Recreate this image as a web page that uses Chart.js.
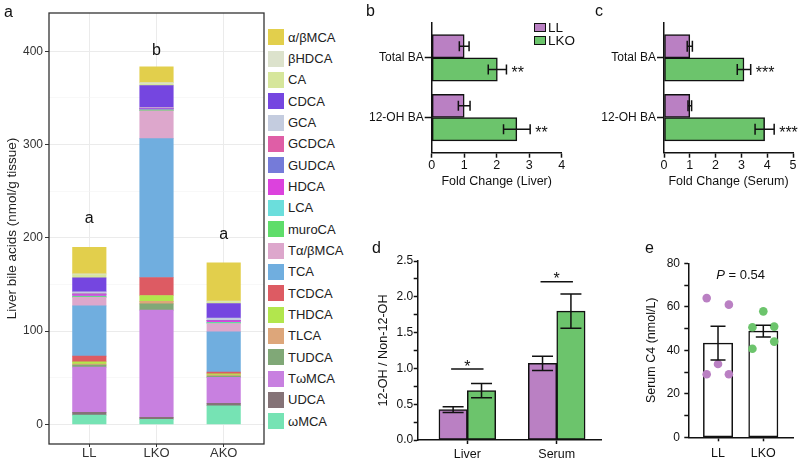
<!DOCTYPE html>
<html>
<head>
<meta charset="utf-8">
<title>Bile acids</title>
<script src="https://cdn.jsdelivr.net/npm/chart.js@4.4.1/dist/chart.umd.min.js"></script>
<style>
  body { margin: 0; background: #fff; }
  #fig { position: relative; width: 800px; height: 461px; overflow: hidden;
         font-family: "Liberation Sans", Arial, sans-serif; color: #111; }
  #fig canvas { position: absolute; }
  .tag { position: absolute; font-size: 16px; line-height: 16px; }
  .key { position: absolute; display: flex; align-items: center; white-space: nowrap; }
  .key i { display: inline-block; box-sizing: border-box; }
</style>
</head>
<body>
<div id="fig">
  <canvas id="chartA" width="266" height="461" style="left:0;top:0"></canvas>
  <canvas id="chartB" width="215" height="200" style="left:360px;top:0"></canvas>
  <canvas id="chartC" width="225" height="200" style="left:575px;top:0"></canvas>
  <canvas id="chartD" width="245" height="241" style="left:360px;top:220px"></canvas>
  <canvas id="chartE" width="180" height="241" style="left:620px;top:220px"></canvas>
  <div id="legendA"></div>
  <div id="legendB"></div>
  <div class="tag" style="left:4px;top:4px">a</div>
  <div class="tag" style="left:366px;top:3px">b</div>
  <div class="tag" style="left:595px;top:3px">c</div>
  <div class="tag" style="left:372px;top:240px">d</div>
  <div class="tag" style="left:645px;top:240px">e</div>
</div>

<script>
// ---- data ----
// panel a: liver bile acid species (nmol/g tissue), legend order
const groupsA = ['LL', 'LKO', 'AKO'];
const speciesA = ['α/βMCA', 'βHDCA', 'CA', 'CDCA', 'GCA', 'GCDCA', 'GUDCA', 'HDCA', 'LCA', 'muroCA',
                  'Tα/βMCA', 'TCA', 'TCDCA', 'THDCA', 'TLCA', 'TUDCA', 'TωMCA', 'UDCA', 'ωMCA'];
const colorsA = ['#E2CF4C', '#DCE2CC', '#D6E69B', '#7546E0', '#C4CCDF', '#DF5EA6', '#757BD9', '#DC42DD', '#6BDEDC', '#5FDD6A',
                 '#DDA7CC', '#70AEDF', '#DD5B63', '#B2E64D', '#DDA67A', '#80A877', '#C880E0', '#857377', '#76E3B4'];
const liverLL  = [28.3, 1.1, 3.2, 15.0, 2.0, 0.4, 0.4, 1.8, 0.4, 1.0, 9.0, 53.9, 6.1, 2.5, 1.1, 2.1, 48.5, 2.9, 10.0];
const liverLKO = [17.0, 1.4, 1.7, 23.5, 0.7, 0.3, 0.3, 1.2, 0.3, 0.7, 29.8, 148.9, 19.3, 6.4, 2.6, 6.7, 115.0, 2.0, 5.5];
const liverAKO = [41.1, 0.8, 1.7, 15.7, 2.4, 0.3, 0.3, 1.6, 0.3, 0.8, 9.0, 43.2, 1.8, 1.2, 1.2, 1.4, 27.8, 2.6, 20.0];
const lettersA = ['a', 'b', 'a'];
const letterYA = [221, 401, 204];

// panels b, c: fold change
const baTypes = ['Total BA', '12-OH BA'];
const liverFoldLL = [1.0, 1.0];
const liverFoldLLErr = [0.15, 0.18];
const liverFoldLKO = [2.02, 2.62];
const liverFoldLKOErr = [0.28, 0.41];
const liverStars = ['**', '**'];
const serumFoldLL = [1.0, 1.0];
const serumFoldLLErr = [0.1, 0.07];
const serumFoldLKO = [3.1, 3.9];
const serumFoldLKOErr = [0.26, 0.37];
const serumStars = ['***', '***'];

// panel d: 12-OH / non-12-OH ratio
const ratioSites = ['Liver', 'Serum'];
const ratioLL = [0.425, 1.07];
const ratioLLErr = [0.04, 0.1];
const ratioLKO = [0.69, 1.8];
const ratioLKOErr = [0.1, 0.24];
const ratioSigY = [0.99, 2.21];

// panel e: serum C4
const c4Groups = ['LL', 'LKO'];
const c4Mean = [43.3, 48.8];
const c4Err = [7.8, 2.7];
const c4LL = [64.0, 61.0, 33.7, 29.0, 29.0];
const c4JitterLL = [-0.25, 0.24, 0, -0.25, 0.24];
const c4LKO = [57.9, 50.6, 50.9, 40.7, 44.0];
const c4JitterLKO = [0, -0.24, 0.24, -0.24, 0.24];
const c4PValue = '0.54';
const c4PLabelY = 74.5;

const LL_COLOR = '#BA80C3';
const LKO_COLOR = '#6CC46C';
const FONT = '"Liberation Sans", Arial, sans-serif';

Chart.defaults.font.family = FONT;
Chart.defaults.color = '#111';
Chart.defaults.animation = false;
Chart.defaults.responsive = false;
Chart.defaults.plugins.legend.display = false;
Chart.defaults.plugins.tooltip.enabled = false;

// helpers
function steps(from, to, step) {
    const out = [];
    for (let v = from; v <= to + 1e-9; v += step) out.push(Math.round(v * 1000) / 1000);
    return out;
}
function fixedTicks(values) {
    return scale => { scale.ticks = values.map(v => ({ value: v })); };
}

// error bars (+ optional stars) for bar datasets that carry an `errors` array
const errorBars = {
    id: 'errorBars',
    afterDatasetsDraw(chart, args, opts) {
        const { ctx } = chart;
        const horizontal = chart.options.indexAxis === 'y';
        const vScale = horizontal ? chart.scales.x : chart.scales.y;
        ctx.save();
        ctx.strokeStyle = '#111';
        ctx.fillStyle = '#111';
        ctx.lineWidth = 1.5;
        chart.data.datasets.forEach((ds, i) => {
            if (!ds.errors) return;
            chart.getDatasetMeta(i).data.forEach((bar, j) => {
                const v = horizontal ? ds.data[j].x : ds.data[j].y;
                const lo = vScale.getPixelForValue(v - ds.errors[j]);
                const hi = vScale.getPixelForValue(v + ds.errors[j]);
                const c = horizontal ? bar.y : bar.x;
                const h = opts.cap / 2;
                ctx.beginPath();
                if (horizontal) {
                    ctx.moveTo(lo, c); ctx.lineTo(hi, c);
                    ctx.moveTo(lo, c - h); ctx.lineTo(lo, c + h);
                    ctx.moveTo(hi, c - h); ctx.lineTo(hi, c + h);
                } else {
                    ctx.moveTo(c, lo); ctx.lineTo(c, hi);
                    ctx.moveTo(c - h, lo); ctx.lineTo(c + h, lo);
                    ctx.moveTo(c - h, hi); ctx.lineTo(c + h, hi);
                }
                ctx.stroke();
                if (ds.stars && ds.stars[j]) {
                    ctx.font = '16px ' + FONT;
                    ctx.textAlign = 'left';
                    ctx.textBaseline = 'middle';
                    ctx.fillText(ds.stars[j], hi + 5, c + 4.5);
                }
            });
        });
        ctx.restore();
    }
};

// ---- panel a: stacked bars ----
const liverByGroup = [liverLL, liverLKO, liverAKO];

const panelABox = {
    id: 'panelABox',
    afterDatasetsDraw(chart) {
        const { ctx, chartArea: a, scales: { x, y } } = chart;
        ctx.save();
        ctx.font = '16px ' + FONT;
        ctx.fillStyle = '#111';
        ctx.textAlign = 'center';
        ctx.textBaseline = 'middle';
        groupsA.forEach((g, i) => ctx.fillText(lettersA[i], x.getPixelForValue(i + 1), y.getPixelForValue(letterYA[i])));
        ctx.strokeStyle = '#333';
        ctx.lineWidth = 1.3;
        ctx.strokeRect(a.left, a.top, a.right - a.left, a.bottom - a.top);
        ctx.restore();
    }
};

new Chart(document.getElementById('chartA'), {
    type: 'bar',
    data: {
        // ωMCA sits at the bottom of each stack, α/βMCA on top
        datasets: speciesA.map((name, k) => ({
            label: name,
            data: groupsA.map((g, i) => ({ x: i + 1, y: liverByGroup[i][k] })),
            backgroundColor: colorsA[k],
            borderWidth: 0,
            barThickness: 33.5
        })).reverse()
    },
    options: {
        layout: { padding: { top: 13, right: 2, left: 0, bottom: 0 } },
        scales: {
            x: {
                type: 'linear', stacked: true, offset: false, min: 0.4, max: 3.6,
                afterBuildTicks: fixedTicks([1, 2, 3]),
                ticks: { callback: v => groupsA[v - 1], font: { size: 13, lineHeight: 1 }, color: '#333', padding: 0 },
                grid: { offset: false, color: '#EBEBEB', lineWidth: 1, tickLength: 3, tickColor: '#333' },
                border: { display: false },
                afterFit: s => { s.height = 17; }
            },
            y: {
                stacked: true, min: -21, max: 441,
                afterBuildTicks: fixedTicks(steps(0, 400, 50)),
                ticks: { callback: v => (v % 100 === 0 ? v : ''), font: { size: 12 }, color: '#333', padding: 2 },
                grid: {
                    color: c => (c.tick && c.tick.value % 100 === 0 ? '#EBEBEB' : '#F3F3F3'),
                    lineWidth: c => (c.tick && c.tick.value % 100 === 0 ? 1 : 0.6),
                    tickColor: c => (c.tick && c.tick.value % 100 === 0 ? '#333' : 'rgba(0,0,0,0)'),
                    tickLength: 4
                },
                border: { display: false },
                title: { display: true, text: 'Liver bile acids (nmol/g tissue)', font: { size: 13.5 }, color: '#222', padding: { top: 4, bottom: 0 } },
                afterFit: s => { s.width = 49; }
            }
        }
    },
    plugins: [panelABox]
});

// legend for panel a
const legendA = document.getElementById('legendA');
speciesA.forEach((name, k) => {
    const row = document.createElement('div');
    row.className = 'key';
    row.style.cssText = `left:268px;top:${29.2 + k * 21.34}px;height:16px;font-size:13px;color:#222`;
    row.innerHTML = `<i style="width:16px;height:16px;background:${colorsA[k]};margin-right:4px"></i>${name}`;
    legendA.appendChild(row);
});

// legend for panel b
const legendB = document.getElementById('legendB');
[['LL', LL_COLOR, 23], ['LKO', LKO_COLOR, 36.4]].forEach(([name, color, top]) => {
    const row = document.createElement('div');
    row.className = 'key';
    row.style.cssText = `left:534px;top:${top}px;height:9px;font-size:13.5px`;
    row.innerHTML = `<i style="width:12px;height:9px;background:${color};border:1px solid #111;margin-right:2px"></i>${name}`;
    legendB.appendChild(row);
});

// ---- panels b, c: horizontal fold change bars ----
function foldChart(canvasId, ll, llErr, lko, lkoErr, stars, xMax, xTitle, yWidth, padRight, cap) {
    const axisLine = { color: '#111', width: 1.5 };
    return new Chart(document.getElementById(canvasId), {
        type: 'bar',
        data: {
            datasets: [
                { data: ll.map((v, i) => ({ x: v, y: i })), errors: llErr,
                  backgroundColor: LL_COLOR, borderColor: '#111', borderWidth: 1.5, borderSkipped: false, barThickness: 23.3 },
                { data: lko.map((v, i) => ({ x: v, y: i })), errors: lkoErr, stars: stars,
                  backgroundColor: LKO_COLOR, borderColor: '#111', borderWidth: 1.5, borderSkipped: false, barThickness: 23.3 }
            ]
        },
        options: {
            indexAxis: 'y',
            layout: { padding: { top: 22.7, right: padRight, left: 0, bottom: 0 } },
            scales: {
                x: {
                    type: 'linear', min: 0, max: xMax,
                    afterBuildTicks: fixedTicks(steps(0, xMax, 1)),
                    ticks: { font: { size: 12.5 }, padding: 0 },
                    grid: { drawOnChartArea: false, tickLength: 5, tickColor: '#111', tickWidth: 1.5 },
                    border: axisLine,
                    title: { display: true, text: xTitle, font: { size: 12.5 }, padding: { top: 0, bottom: 10.8 } },
                    afterFit: s => { s.height = 47.3; }
                },
                y: {
                    type: 'linear', reverse: true, offset: false, min: -0.59, max: 1.59,
                    afterBuildTicks: fixedTicks([0, 1]),
                    ticks: { callback: v => baTypes[v], font: { size: 12 }, padding: 1 },
                    grid: { offset: false, drawOnChartArea: false, tickLength: 7, tickColor: '#111', tickWidth: 1.5 },
                    border: axisLine,
                    afterFit: s => { s.width = yWidth; }
                }
            },
            plugins: { errorBars: { cap: cap } }
        },
        plugins: [errorBars]
    });
}

foldChart('chartB', liverFoldLL, liverFoldLLErr, liverFoldLKO, liverFoldLKOErr, liverStars,
          4, 'Fold Change (Liver)', 71.7, 13.3, 10);
foldChart('chartC', serumFoldLL, serumFoldLLErr, serumFoldLKO, serumFoldLKOErr, serumStars,
          5, 'Fold Change (Serum)', 89, 7, 11);

// ---- panel d: ratio bars with significance brackets ----
const brackets = {
    id: 'brackets',
    afterDatasetsDraw(chart) {
        const { ctx, scales: { y } } = chart;
        const ll = chart.getDatasetMeta(0).data;
        const lko = chart.getDatasetMeta(1).data;
        ctx.save();
        ctx.strokeStyle = '#111';
        ctx.fillStyle = '#111';
        ctx.lineWidth = 1.5;
        ctx.font = '16px ' + FONT;
        ctx.textAlign = 'center';
        ctx.textBaseline = 'alphabetic';
        ratioSigY.forEach((v, i) => {
            const yy = y.getPixelForValue(v);
            const x0 = ll[i].x - 2, x1 = lko[i].x + 2;
            ctx.beginPath();
            ctx.moveTo(x0, yy);
            ctx.lineTo(x1, yy);
            ctx.stroke();
            ctx.fillText('*', (x0 + x1) / 2, yy + 2.5);
        });
        ctx.restore();
    }
};

const axisD = { color: '#111', width: 1.5 };
new Chart(document.getElementById('chartD'), {
    type: 'bar',
    data: {
        datasets: [
            { data: ratioLL.map((v, i) => ({ x: i, y: v })), errors: ratioLLErr,
              backgroundColor: LL_COLOR, borderColor: '#111', borderWidth: 1.5, borderSkipped: false, barThickness: 28.4 },
            { data: ratioLKO.map((v, i) => ({ x: i, y: v })), errors: ratioLKOErr,
              backgroundColor: LKO_COLOR, borderColor: '#111', borderWidth: 1.5, borderSkipped: false, barThickness: 28.4 }
        ]
    },
    options: {
        layout: { padding: { top: 41, right: 3.3, left: 0, bottom: 0 } },
        scales: {
            x: {
                type: 'linear', offset: false, min: -0.555, max: 1.503,
                afterBuildTicks: fixedTicks([0, 1]),
                ticks: { callback: v => ratioSites[v], font: { size: 12.5 }, padding: 3.5 },
                grid: { offset: false, drawOnChartArea: false, tickLength: 4, tickColor: '#111', tickWidth: 1.5 },
                border: axisD,
                afterFit: s => { s.height = 21; }
            },
            y: {
                min: 0, max: 2.5,
                afterBuildTicks: fixedTicks(steps(0, 2.5, 0.25)),
                ticks: { callback: v => (Math.round(v * 4) % 2 === 0 ? v.toFixed(1) : ''), font: { size: 12 }, padding: 0.5 },
                grid: { drawOnChartArea: false, tickLength: 4, tickColor: '#111', tickWidth: 1.5 },
                border: axisD,
                title: { display: true, text: '12-OH / Non-12-OH', font: { size: 12.6 }, padding: { top: 15.7, bottom: 0 } },
                afterFit: s => { s.width = 57.7; }
            }
        },
        plugins: { errorBars: { cap: 21 } }
    },
    plugins: [errorBars, brackets]
});

// ---- panel e: serum C4 bars with individual points ----
const pLabel = {
    id: 'pLabel',
    afterDraw(chart) {
        const { ctx, scales: { x, y } } = chart;
        const cx = x.getPixelForValue(0.5);
        const cy = y.getPixelForValue(c4PLabelY);
        const rest = ' = ' + c4PValue;
        ctx.save();
        ctx.fillStyle = '#111';
        ctx.textBaseline = 'middle';
        ctx.textAlign = 'left';
        ctx.font = 'italic 13px ' + FONT;
        const w1 = ctx.measureText('P').width;
        ctx.font = '13px ' + FONT;
        const w2 = ctx.measureText(rest).width;
        const left = cx - (w1 + w2) / 2;
        ctx.font = 'italic 13px ' + FONT;
        ctx.fillText('P', left, cy);
        ctx.font = '13px ' + FONT;
        ctx.fillText(rest, left + w1, cy);
        ctx.restore();
    }
};

const axisE = { color: '#111', width: 1.5 };
new Chart(document.getElementById('chartE'), {
    type: 'bar',
    data: {
        datasets: [
            { type: 'bar', data: c4Mean.map((v, i) => ({ x: i, y: v })), errors: c4Err,
              backgroundColor: '#fff', borderColor: '#111', borderWidth: 1.5, borderSkipped: false, barThickness: 29.3, order: 2 },
            { type: 'scatter', data: c4LL.map((v, i) => ({ x: c4JitterLL[i], y: v })),
              backgroundColor: LL_COLOR, borderWidth: 0, pointRadius: 4.3, order: 1 },
            { type: 'scatter', data: c4LKO.map((v, i) => ({ x: 1 + c4JitterLKO[i], y: v })),
              backgroundColor: LKO_COLOR, borderWidth: 0, pointRadius: 4.3, order: 1 }
        ]
    },
    options: {
        layout: { padding: { top: 43.3, right: 6.7, left: 0, bottom: 0 } },
        scales: {
            x: {
                type: 'linear', offset: false, min: -0.656, max: 1.662,
                afterBuildTicks: fixedTicks([0, 1]),
                ticks: { callback: v => c4Groups[v], font: { size: 12.5 }, padding: 4.5 },
                grid: { offset: false, drawOnChartArea: false, tickLength: 4, tickColor: '#111', tickWidth: 1.5 },
                border: axisE,
                afterFit: s => { s.height = 23.7; }
            },
            y: {
                min: 0, max: 80,
                afterBuildTicks: fixedTicks(steps(0, 80, 10)),
                ticks: { callback: v => (v % 20 === 0 ? v : ''), font: { size: 12 }, padding: 4.3 },
                grid: { drawOnChartArea: false, tickLength: 4, tickColor: '#111', tickWidth: 1.5 },
                border: axisE,
                title: { display: true, text: 'Serum C4 (nmol/L)', font: { size: 12.5 }, padding: { top: 24.2, bottom: 0 } },
                afterFit: s => { s.width = 68.3; }
            }
        },
        plugins: { errorBars: { cap: 15 } }
    },
    plugins: [errorBars, pLabel]
});
</script>
</body>
</html>
